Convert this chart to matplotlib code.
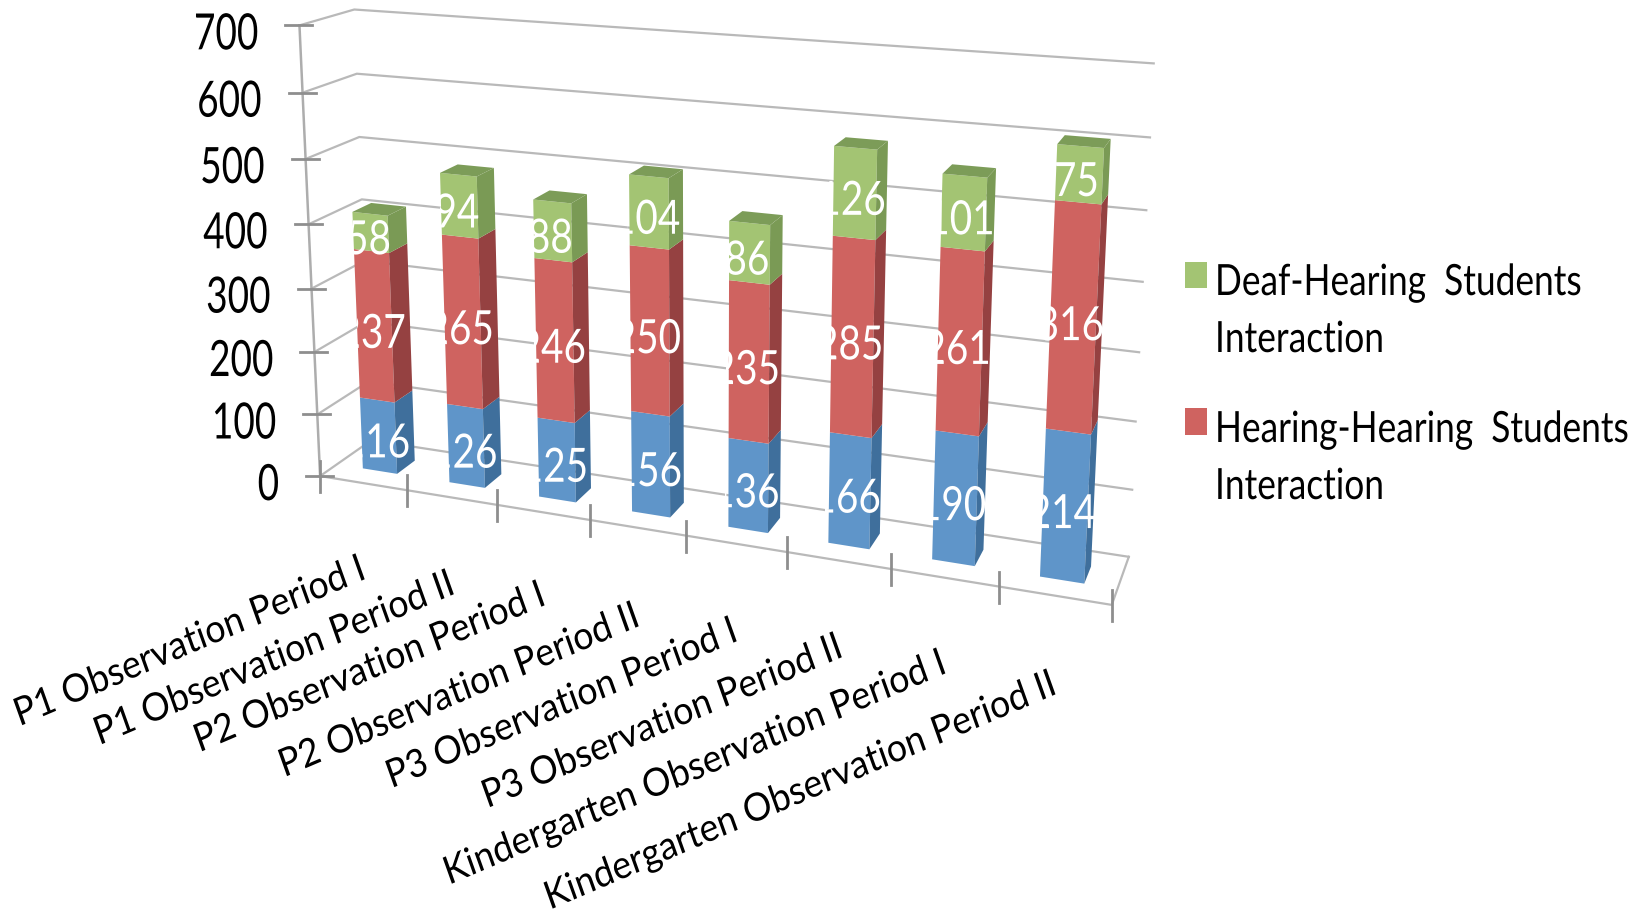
import numpy as np
import matplotlib
matplotlib.use('Agg')
import matplotlib.pyplot as plt
from matplotlib.patches import Rectangle
from matplotlib.patheffects import AbstractPathEffect
from matplotlib.transforms import Affine2D

categories = ['P1 Observation Period I', 'P1 Observation Period II',
              'P2 Observation Period I', 'P2 Observation Period II',
              'P3 Observation Period I', 'P3 Observation Period II',
              'Kindergarten Observation Period I', 'Kindergarten Observation Period II']
blue_values = [116, 126, 125, 156, 136, 166, 190, 214]
red_values = [237, 265, 246, 250, 235, 285, 261, 316]
green_values = [58, 94, 88, 104, 86, 126, 101, 75]
value_ticks = [0, 100, 200, 300, 400, 500, 600, 700]
legend_names = ['Deaf-Hearing  Students\nInteraction', 'Hearing-Hearing  Students\nInteraction']

# camera calibration: (u, w, v) -> where the frame of the 3d box sits in the image
front_axis_y = [477, 415, 352, 289, 224, 159, 93, 25.5]
front_axis_x = [320, 318, 314, 312, 308, 305, 302, 300]
back_right_y = [557, 490, 422, 352, 282, 211, 137, 63]
back_right_x = [1129, 1132, 1135, 1139, 1143, 1147, 1150, 1153]
floor_tick_x = [320, 407, 497, 589, 687, 787, 891, 999, 1112]
floor_tick_y = [477, 490, 504, 519, 535, 551, 568, 587, 606]

world = []
image = []
for k, v in enumerate(value_ticks):
    world.append((0, 0, v / 700))
    image.append((front_axis_x[k], front_axis_y[k]))
    world.append((1, 1, v / 700))
    image.append((back_right_x[k], back_right_y[k]))
for k in range(9):
    world.append((k / 8, 0, 0))
    image.append((floor_tick_x[k], floor_tick_y[k]))
world += [(0, 1, 0), (0, 1, 1)]
image += [(371, 440), (355, 9)]

rows = []
for (a, b, c), (x, y) in zip(world, image):
    rows.append([a, b, c, 1, 0, 0, 0, 0, -x * a, -x * b, -x * c, -x])
    rows.append([0, 0, 0, 0, a, b, c, 1, -y * a, -y * b, -y * c, -y])
cam = np.linalg.svd(np.array(rows, float))[2][-1].reshape(3, 4)


def project(u, w, v):
    p = cam @ np.array([u / 8, w, v / 700, 1.0])
    return p[0] / p[2], p[1] / p[2]


class Squeeze(AbstractPathEffect):
    # the original picture is stretched, so the glyphs are narrower than any installed font
    def __init__(self, px, sx):
        super().__init__()
        self.px = px
        self.sx = sx

    def draw_path(self, renderer, gc, tpath, affine, rgbFace=None):
        aff = affine + Affine2D().translate(-self.px, 0).scale(self.sx, 1).translate(self.px, 0)
        renderer.draw_path(gc, tpath, aff, rgbFace)


plt.rcParams['font.family'] = ['Lato', 'DejaVu Sans']

fig = plt.figure(figsize=(16.43, 9.14), dpi=100)
ax = fig.add_axes([0, 0, 1, 1])
ax.set_xlim(0, 1643)
ax.set_ylim(914, 0)
ax.axis('off')

grid_color = '#b9b9b9'
tick_color = '#8e8e8e'

# walls
for v in value_ticks:
    pts = [project(0, 0, v), project(0, 1, v), project(8, 1, v)]
    ax.plot(*zip(*pts), color=grid_color, lw=1.6, zorder=1)
    x, y = project(0, 0, v)
    ax.plot([x - 14, x + 13], [y, y], color=tick_color, lw=2, zorder=2)
    ax.text(x - 41, y + 10, str(v), ha='right', va='center', fontsize=36, color='black',
            path_effects=[Squeeze(x - 41, 0.74)])
ax.plot(*zip(project(0, 0, 0), project(0, 0, 700)), color='#adadad', lw=1.8, zorder=1)
ax.plot(*zip(project(0, 0, 0), project(8, 0, 0), project(8, 1, 0)), color=grid_color, lw=1.6, zorder=1)
for k in range(9):
    x, y = project(k, 0, 0)
    ax.plot([x, x], [y - 15, y + 16], color=tick_color, lw=2, zorder=2)

# bars
series = [(blue_values, '#5f95c9', '#3f6f9c', '#4c7cab'),
          (red_values, '#cf6360', '#954141', '#a84c4a'),
          (green_values, '#a3c473', '#7a9a55', '#7c9c58')]
u0, u1 = 0.305, 0.705
w0, w1 = 0.32, 0.68
for i in range(8):
    base = 0
    for vals, front, side, top in series:
        h = vals[i]
        a, b = base, base + h
        ax.fill(*zip(project(i + u0, w0, a), project(i + u1, w0, a), project(i + u1, w0, b), project(i + u0, w0, b)),
                color=front, lw=0, zorder=3)
        ax.fill(*zip(project(i + u1, w0, a), project(i + u1, w1, a), project(i + u1, w1, b), project(i + u1, w0, b)),
                color=side, lw=0, zorder=3)
        base = b
    ax.fill(*zip(project(i + u0, w0, base), project(i + u1, w0, base), project(i + u1, w1, base), project(i + u0, w1, base)),
            color=series[2][3], lw=0, zorder=3)

    # value labels are cut off by the left edge of the bar
    base = 0
    for vals, front, side, top in series:
        h = vals[i]
        lx, ly = project(i + 0.48, w0, base + h / 2)
        edge = project(i + u0, w0, base + h / 2)[0] - 0.8 * i
        t = ax.text(lx, ly + 9, str(h), ha='center', va='center', fontsize=34, color='white', zorder=4, clip_on=True,
                    path_effects=[Squeeze(lx, 0.82)])
        t.set_clip_path(Rectangle((edge, 0), 1643, 914, transform=ax.transData))
        base += h

# category labels
label_ends = [(358, 551), (447, 566), (538, 577), (632, 598), (730, 613), (835, 629), (939, 645), (1049, 666)]
for name, (x, y) in zip(categories, label_ends):
    ax.text(x, y, name, rotation=21.3, rotation_mode='anchor', ha='right', va='top',
            fontsize=28, color='black', path_effects=[Squeeze(x, 0.915)])

# legend
ax.add_patch(Rectangle((1185, 262), 22, 26, color='#a3c473', lw=0))
ax.add_patch(Rectangle((1185, 408), 22, 27, color='#cf6360', lw=0))
legend_rows = [(295, legend_names[0].split('\n')[0]), (352, legend_names[0].split('\n')[1]),
               (442, legend_names[1].split('\n')[0]), (499, legend_names[1].split('\n')[1])]
for y, s in legend_rows:
    ax.text(1215, y, s, fontsize=31, va='baseline', path_effects=[Squeeze(1215, 0.82)])

fig.savefig('out.png', dpi=100)
